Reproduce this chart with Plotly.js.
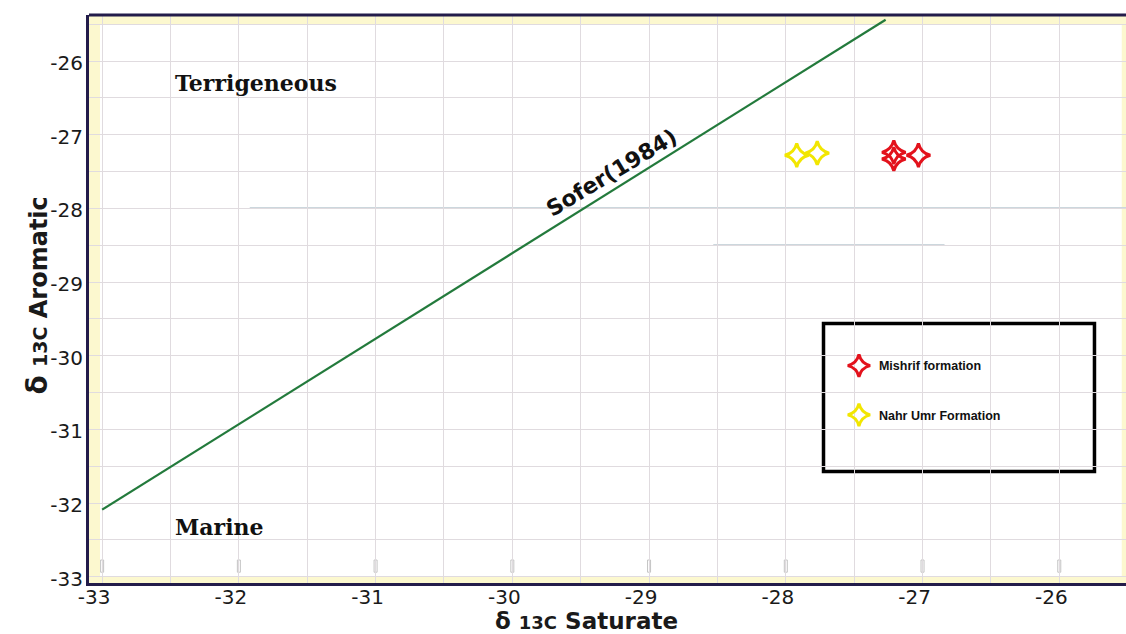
<!DOCTYPE html>
<html>
<head>
<meta charset="utf-8">
<script src="https://cdn.plot.ly/plotly-3.0.1.min.js"></script>
<style>
html,body{margin:0;padding:0;background:#fff;}
#chart{width:1126px;height:634px;}
</style>
</head>
<body>
<div id="chart"></div>
<script>
// ---- data ----
const soferX = [-33.0, -27.27];
const soferY = [-32.09, -25.44];

const mishrifName = "Mishrif formation";
const mishrifX = [-27.21, -27.21, -27.03];
const mishrifY = [-27.24, -27.33, -27.28];

const nahrUmrName = "Nahr Umr Formation";
const nahrUmrX = [-27.92, -27.77];
const nahrUmrY = [-27.28, -27.25];

const xTicks = [-33, -32, -31, -30, -29, -28, -27, -26];
const yTicks = [-33, -32, -31, -30, -29, -28, -27, -26];

const regionLabels = ["Terrigeneous", "Marine"];
const regionX = [-32.48, -32.48];
const regionY = [-26.30, -32.33];

const lineLabel = "Sofer(1984)";
const lineLabelX = -29.27;
const lineLabelY = -27.52;

const xTitle = '<b>δ <span style="font-size:18px">13C</span> Saturate</b>';
const yTitle = '<b><span style="font-size:28px">δ</span> <span style="font-size:19px">13C</span> Aromatic</b>';

// ---- traces ----
const traces = [
  {
    x: soferX, y: soferY, mode: "lines", type: "scatter",
    line: {color: "#237a3c", width: 2.2},
    showlegend: false, hoverinfo: "skip"
  },
  {
    x: mishrifX, y: mishrifY, mode: "markers", type: "scatter",
    name: mishrifName, legendgroup: "a",
    marker: {symbol: "star-diamond-open", size: 17, color: "#e3121c", line: {width: 3, color: "#e3121c"}}
  },
  {
    x: nahrUmrX, y: nahrUmrY, mode: "markers", type: "scatter",
    name: nahrUmrName, legendgroup: "b",
    marker: {symbol: "star-diamond-open", size: 17, color: "#f2e600", line: {width: 3, color: "#f2e600"}}
  }
];

const gridCol = "#e0dbdf";
const tickFont = {family: "DejaVu Sans, Liberation Sans, sans-serif", size: 20, color: "#1a1a1a"};
const axisCommon = {
  showline: true, linecolor: "#231c4a", linewidth: 3,
  zeroline: false,
  showgrid: true, gridcolor: gridCol, gridwidth: 1,
  ticks: "", tickfont: tickFont,
  minor: {dtick: 0.5, showgrid: true, gridcolor: gridCol, gridwidth: 1, ticks: ""}
};

const frameCol = "#fcf8cf";
const shapes = [
  // pale yellow frame strips (above grid, below traces)
  {type: "rect", xref: "paper", yref: "paper", x0: 0, x1: 0.0106, y0: 0, y1: 1, fillcolor: frameCol, line: {width: 0}, layer: "between"},
  {type: "rect", xref: "paper", yref: "paper", x0: 0.9959, x1: 1, y0: 0, y1: 1, fillcolor: frameCol, line: {width: 0}, layer: "between"},
  {type: "rect", xref: "paper", yref: "paper", x0: 0, x1: 1, y0: 0.9824, y1: 1, fillcolor: frameCol, line: {width: 0}, layer: "between"},
  {type: "rect", xref: "paper", yref: "paper", x0: 0, x1: 1, y0: 0, y1: 0.0106, fillcolor: frameCol, line: {width: 0}, layer: "between"},
  // top border line
  {type: "line", xref: "paper", yref: "paper", x0: 0, x1: 1, y0: 1, y1: 1, line: {color: "#231c4a", width: 3}},
  // faint scan lines
  {type: "line", xref: "paper", yref: "paper", x0: 0.155, x1: 1, y0: 0.660, y1: 0.660, line: {color: "#ccd7dd", width: 2}, layer: "between"},
  {type: "line", xref: "paper", yref: "paper", x0: 0.602, x1: 0.825, y0: 0.595, y1: 0.595, line: {color: "#ccd7dd", width: 2}, layer: "between"},
  // legend box
  {type: "rect", xref: "paper", yref: "paper", x0: 0.7083, x1: 0.9696, y0: 0.1963, y1: 0.4569,
   fillcolor: "#ffffff", line: {color: "#000000", width: 3.5}, layer: "between"}
];
// small tick-position marks near the bottom
xTicks.forEach(function (t) {
  shapes.push({type: "rect", xref: "x", yref: "paper", x0: t - 0.011, x1: t + 0.011, y0: 0.019, y1: 0.0405,
    fillcolor: "#ffffff", line: {color: "#c4c4c4", width: 1}, layer: "between"});
});

const layout = {
  width: 1126, height: 634,
  margin: {l: 89, r: 0, t: 15, b: 51},
  paper_bgcolor: "#ffffff",
  plot_bgcolor: "#ffffff",
  showlegend: true,
  xaxis: Object.assign({}, axisCommon, {
    range: [-33.096, -25.512],
    tickvals: xTicks, ticktext: xTicks.map(String),
    ticklabelshift: -8,
    ticklabelstandoff: -6
  }),
  yaxis: Object.assign({}, axisCommon, {
    range: [-33.0855, -25.3756],
    tickvals: yTicks, ticktext: yTicks.map(String),
    ticklabelshift: 2,
    ticklabelstandoff: -1
  }),
  legend: {
    x: 0.7232, y: 0.4085, xanchor: "left", yanchor: "top",
    bgcolor: "rgba(0,0,0,0)", borderwidth: 0,
    font: {family: "Liberation Sans, Arial, sans-serif", size: 12.5, color: "#111", weight: "bold"},
    tracegroupgap: 30
  },
  shapes: shapes,
  annotations: [
    {x: regionX[0], y: regionY[0], xref: "x", yref: "y", text: "<b>" + regionLabels[0] + "</b>",
     showarrow: false, xanchor: "left", yanchor: "middle",
     font: {family: "DejaVu Serif, Liberation Serif, serif", size: 22, color: "#111"}},
    {x: regionX[1], y: regionY[1], xref: "x", yref: "y", text: "<b>" + regionLabels[1] + "</b>",
     showarrow: false, xanchor: "left", yanchor: "middle",
     font: {family: "DejaVu Serif, Liberation Serif, serif", size: 22, color: "#111"}},
    {x: lineLabelX, y: lineLabelY, xref: "x", yref: "y", text: "<b>" + lineLabel + "</b>",
     showarrow: false, textangle: -31,
     font: {family: "DejaVu Sans, Liberation Sans, sans-serif", size: 22, color: "#111"}},
    {x: 0.480, y: -0.0664, xref: "paper", yref: "paper", text: xTitle, showarrow: false,
     xanchor: "center", yanchor: "middle",
     font: {family: "DejaVu Sans, Liberation Sans, sans-serif", size: 23, color: "#1a1a1a"}},
    {x: -0.0492, y: 0.506, xref: "paper", yref: "paper", text: yTitle, showarrow: false, textangle: -90,
     xanchor: "center", yanchor: "middle",
     font: {family: "DejaVu Sans, Liberation Sans, sans-serif", size: 24, color: "#1a1a1a"}}
  ]
};

Plotly.newPlot("chart", traces, layout, {displayModeBar: false, staticPlot: true});
</script>
</body>
</html>
